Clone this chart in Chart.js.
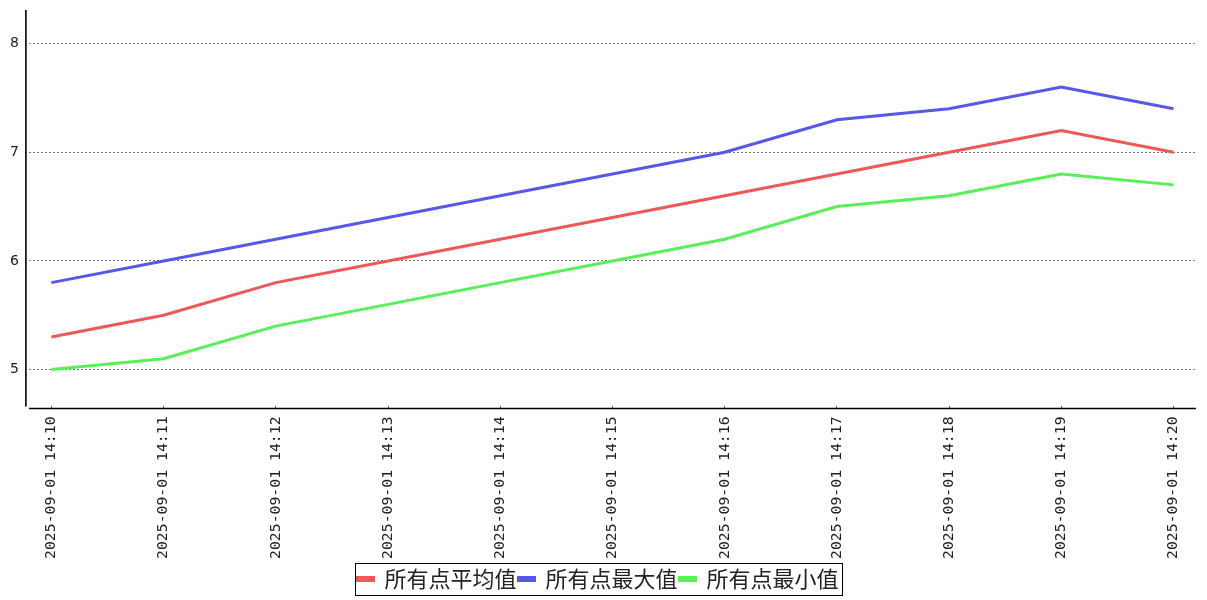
<!DOCTYPE html>
<html>
<head>
<meta charset="utf-8">
<script src="https://cdn.jsdelivr.net/npm/chart.js@4.4.1/dist/chart.umd.min.js"></script>
<style>
    html, body { margin: 0; padding: 0; background: #fff; }
    #wrap { width: 1207px; height: 600px; position: relative; }
</style>
</head>
<body>
<div id="wrap"><canvas id="trendChart"></canvas></div>
<script>
    // time labels along the bottom
    const timeLabels = [
        '2025-09-01 14:10', '2025-09-01 14:11', '2025-09-01 14:12', '2025-09-01 14:13',
        '2025-09-01 14:14', '2025-09-01 14:15', '2025-09-01 14:16', '2025-09-01 14:17',
        '2025-09-01 14:18', '2025-09-01 14:19', '2025-09-01 14:20'
    ];
    const yTicks = [5, 6, 7, 8];

    const avgValues = [5.3, 5.5, 5.8, 6.0, 6.2, 6.4, 6.6, 6.8, 7.0, 7.2, 7.0];
    const maxValues = [5.8, 6.0, 6.2, 6.4, 6.6, 6.8, 7.0, 7.3, 7.4, 7.6, 7.4];
    const minValues = [5.0, 5.1, 5.4, 5.6, 5.8, 6.0, 6.2, 6.5, 6.6, 6.8, 6.7];

    const seriesNames = ['所有点平均值', '所有点最大值', '所有点最小值'];
    const seriesColors = ['#f05757', '#5757eb', '#57f057'];

    const toPoints = vals => vals.map((v, i) => ({ x: i, y: v }));

    // offset axis lines + legend frame
    const axisFrame = {
        id: 'axisFrame',
        afterDraw(chart) {
            const ctx = chart.ctx;
            const a = chart.chartArea;
            ctx.save();
            ctx.strokeStyle = '#000';
            ctx.lineWidth = 1.6;
            ctx.beginPath();
            ctx.moveTo(a.left - 3, a.top);
            ctx.lineTo(a.left - 3, a.bottom);
            ctx.moveTo(a.left, a.bottom + 2);
            ctx.lineTo(a.right, a.bottom + 2);
            ctx.stroke();

            const boxes = chart.legend.legendHitBoxes;
            if (boxes && boxes.length) {
                const first = boxes[0];
                const last = boxes[boxes.length - 1];
                const cy = first.top + first.height / 2;
                const x0 = Math.round(first.left - 2) + 0.5;
                const x1 = Math.round(last.left + last.width + 3) + 0.5;
                ctx.lineWidth = 1;
                ctx.strokeRect(x0, Math.round(cy - 16) + 0.5, x1 - x0, 32);
            }
            ctx.restore();
        }
    };

    new Chart(document.getElementById('trendChart').getContext('2d'), {
        type: 'line',
        data: {
            datasets: seriesNames.map((name, k) => ({
                label: name,
                data: toPoints([avgValues, maxValues, minValues][k]),
                borderColor: seriesColors[k],
                backgroundColor: seriesColors[k],
                borderWidth: 3,
                pointRadius: 0,
                tension: 0,
            })),
        },
        options: {
            responsive: true,
            maintainAspectRatio: false,
            animation: false,
            layout: { padding: { left: 0, right: 11, top: 10, bottom: 0 } },
            plugins: {
                tooltip: { enabled: false },
                legend: {
                    position: 'bottom',
                    labels: {
                        boxWidth: 16,
                        boxHeight: 3,
                        padding: 2,
                        color: '#222',
                        font: { family: '"Noto Sans CJK SC"', size: 22, lineHeight: 1 },
                    },
                },
            },
            scales: {
                x: {
                    type: 'linear',
                    min: -0.2,
                    max: 10.2,
                    afterBuildTicks: s => { s.ticks = timeLabels.map((_, i) => ({ value: i })); },
                    border: { display: false },
                    grid: { drawOnChartArea: false, drawTicks: true, tickLength: 3, color: '#666', lineWidth: 1 },
                    ticks: {
                        autoSkip: false,
                        minRotation: 90,
                        maxRotation: 90,
                        padding: 7,
                        color: '#222',
                        font: { family: '"DejaVu Sans Mono"', size: 14.8 },
                        callback: v => timeLabels[v],
                    },
                },
                y: {
                    min: 4.66,
                    max: 8.31,
                    afterBuildTicks: s => { s.ticks = yTicks.map(v => ({ value: v })); },
                    afterFit: s => { s.paddingTop = 0; s.paddingBottom = 0; },
                    border: { display: false, dash: [2, 2] },
                    grid: {
                        color: '#777',
                        lineWidth: 1,
                        drawTicks: false,
                    },
                    ticks: {
                        padding: 10,
                        color: '#222',
                        font: { family: '"DejaVu Sans"', size: 14 },
                    },
                },
            },
        },
        plugins: [axisFrame],
    });
</script>
</body>
</html>
